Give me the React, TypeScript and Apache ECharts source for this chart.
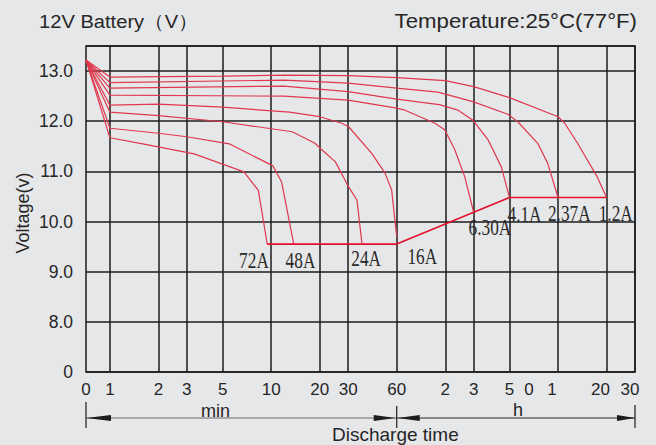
import React, { useEffect, useRef } from "react";
import * as echarts from "echarts";

// ---- data (time in minutes, voltage in volts) ----
const currents = ["1.2A", "2.37A", "4.1A", "6.30A", "16A", "24A", "48A", "72A"];

const t1_2A = [0, 1, 5, 12, 30, 60, 120, 180, 300, 600, 660, 793, 1050, 1200];
const v1_2A = [13.22, 12.88, 12.9, 12.92, 12.91, 12.87, 12.81, 12.69, 12.47, 12.09, 11.96, 11.56, 10.89, 10.48];

const t2_37A = [0, 1, 12, 30, 60, 108, 178, 293, 338, 449, 518, 600];
const v2_37A = [13.22, 12.77, 12.82, 12.76, 12.66, 12.58, 12.39, 12.14, 11.99, 11.56, 11.16, 10.48];

const t4_1A = [0, 1, 12, 30, 60, 110, 144, 178, 221, 267, 290, 300];
const v4_1A = [13.22, 12.66, 12.7, 12.59, 12.44, 12.33, 12.22, 12.02, 11.63, 11.09, 10.66, 10.48];

const t6_30A = [0, 1, 12, 30, 60, 67.5, 103.5, 119, 137.5, 158.5, 180];
const v6_30A = [13.22, 12.52, 12.5, 12.42, 12.26, 12.22, 11.96, 11.83, 11.43, 10.89, 10.18];

const t16A = [0, 1, 2, 5, 13, 20, 27.4, 30.2, 42, 50.85, 55.8, 60];
const v16A = [13.22, 12.32, 12.34, 12.28, 12.18, 12.09, 11.96, 11.89, 11.36, 10.96, 10.63, 9.7];

const t24A = [0, 1, 2, 5, 13.5, 18.7, 20.6, 25, 30.2, 34, 36.5];
const v24A = [13.22, 12.18, 12.11, 11.99, 11.79, 11.56, 11.43, 11.19, 10.69, 10.43, 9.57];

const t48A = [0, 1, 2, 3, 5.5, 10.25, 11.6, 13.8];
const v48A = [13.22, 11.86, 11.76, 11.69, 11.55, 11.11, 10.79, 9.55];

const t72A = [0, 1, 1.66, 3.33, 6.78, 8.32, 9.45];
const v72A = [13.22, 11.67, 11.54, 11.35, 10.99, 10.62, 9.55];

const cutoffMinutes = [9.45, 60, 300, 1200];
const cutoffVolts = [9.55, 9.55, 10.48, 10.48];

const curveTimes = [t1_2A, t2_37A, t4_1A, t6_30A, t16A, t24A, t48A, t72A];
const curveVolts = [v1_2A, v2_37A, v4_1A, v6_30A, v16A, v24A, v48A, v72A];

// curve label anchors (minutes, volts)
const labelMinutes = [1367, 705, 372, 227, 86.4, 38.8, 15.19, 7.82];
const labelVolts = [10.17, 10.17, 10.16, 9.9, 9.31, 9.27, 9.23, 9.23];

// axes
const AXIS_START_MIN = 0.711; // left edge, labelled "0"
const AXIS_END_MIN = 1800; // 30 h
const xGridMinutes = [1, 2, 3, 5, 10, 20, 30, 60, 120, 180, 300, 600, 1200, 1800];
const xLabelMinutes = [0, 1, 2, 3, 5, 10, 20, 30, 60, 120, 180, 300, 397, 550, 1100, 1673];
const xTickLabels = ["0", "1", "2", "3", "5", "10", "20", "30", "60", "2", "3", "5", "0", "1", "20", "30"];
const yTickLabels = ["0", "8.0", "9.0", "10.0", "11.0", "12.0", "13.0"];

const xOf = (t: number) => (t <= 0 ? Math.log10(AXIS_START_MIN) : Math.log10(t));
const yOf = (v: number) => v - 7; // broken axis: 0, then 8..13

const CURVE = "#e0384e";
const CUT = "#e6102c";
const GRID = "#1c1c1c";
const TEXT = "#262626";
const SANS = "'Liberation Sans', Arial, sans-serif";
const SERIF = "'Liberation Serif', 'Times New Roman', serif";

export default function App() {
  const ref = useRef<HTMLDivElement>(null);

  useEffect(() => {
    const chart = echarts.init(ref.current!, null, { renderer: "svg" });
    const xLabelVals = xLabelMinutes.map(xOf);

    const series: any[] = curveTimes.map((ts, i) => ({
      type: "line",
      name: currents[i],
      data: ts.map((t, j) => [xOf(t), yOf(curveVolts[i][j])]),
      symbol: "none",
      showSymbol: false,
      silent: true,
      lineStyle: { color: CURVE, width: 1.2 },
      z: 3,
    }));
    series.push({
      type: "line",
      name: "cutoff",
      data: cutoffMinutes.map((t, j) => [xOf(t), yOf(cutoffVolts[j])]),
      symbol: "none",
      showSymbol: false,
      silent: true,
      lineStyle: { color: CUT, width: 1.6 },
      z: 4,
    });

    const option: any = {
      animation: false,
      backgroundColor: "#e6e7e9",
      grid: {
        left: 86,
        right: 21,
        top: 46,
        bottom: 73,
        show: true,
        borderColor: GRID,
        borderWidth: 1.5,
        backgroundColor: "transparent",
      },
      xAxis: {
        type: "value",
        min: xOf(AXIS_START_MIN),
        max: xOf(AXIS_END_MIN),
        axisLine: { show: false },
        axisTick: { show: false, customValues: xGridMinutes.map(xOf) },
        splitLine: { show: true, lineStyle: { color: GRID, width: 1.5 } },
        axisLabel: {
          customValues: xLabelVals,
          formatter: (val: number) => {
            let best = 0;
            for (let i = 1; i < xLabelVals.length; i++) {
              if (Math.abs(xLabelVals[i] - val) < Math.abs(xLabelVals[best] - val)) best = i;
            }
            return xTickLabels[best];
          },
          margin: 9,
          fontSize: 17,
          color: TEXT,
          fontFamily: SANS,
          showMinLabel: true,
          showMaxLabel: true,
        },
      },
      yAxis: {
        type: "value",
        min: 0,
        max: 6.5,
        interval: 1,
        axisLine: { show: false },
        axisTick: { show: false },
        splitLine: { show: true, lineStyle: { color: GRID, width: 1.5 } },
        axisLabel: {
          formatter: (v: number) => (Number.isInteger(v) ? yTickLabels[v] : ""),
          margin: 13,
          fontSize: 17.5,
          color: TEXT,
          fontFamily: SANS,
        },
      },
      series,
    };
    chart.setOption(option);

    const px = (t: number, v: number) => chart.convertToPixel({ gridIndex: 0 }, [xOf(t), yOf(v)]) as number[];
    const xStart = px(0, 9)[0];
    const x60 = px(60, 9)[0];
    const xEnd = px(AXIS_END_MIN, 9)[0];
    const ay = 418;

    const graphic: any[] = [];
    // titles
    graphic.push({
      type: "text",
      x: 39,
      y: 21,
      scaleX: 1.06,
      style: { x: 0, y: 0, text: "12V Battery（V）", font: `19px ${SANS}`, fill: TEXT, textAlign: "left", textVerticalAlign: "middle" },
    });
    graphic.push({
      type: "text",
      x: 637,
      y: 21,
      scaleX: 1.14,
      style: { x: 0, y: 0, text: "Temperature:25°C(77°F)", font: `19.5px ${SANS}`, fill: TEXT, textAlign: "right", textVerticalAlign: "middle" },
    });
    graphic.push({
      type: "text",
      x: 23,
      y: 213,
      rotation: Math.PI / 2,
      style: { x: 0, y: 0, text: "Voltage(v)", font: `18px ${SANS}`, fill: TEXT, textAlign: "center", textVerticalAlign: "middle" },
    });
    // curve labels
    currents.forEach((name, i) => {
      const p = px(labelMinutes[i], labelVolts[i]);
      graphic.push({
        type: "text",
        x: p[0],
        y: p[1],
        scaleX: 0.72,
        style: { x: 0, y: 0, text: name, font: `24px ${SERIF}`, fill: "#2a2a2a", textAlign: "center", textVerticalAlign: "middle" },
      });
    });
    // discharge time arrows
    const arrowFill = "#1c1c1c";
    graphic.push({ type: "line", shape: { x1: xStart, y1: ay, x2: x60, y2: ay }, style: { stroke: "#6a6a6a", lineWidth: 1.2 } });
    graphic.push({ type: "line", shape: { x1: x60, y1: ay, x2: xEnd, y2: ay }, style: { stroke: "#2a2a2a", lineWidth: 1.2 } });
    const head = (tip: number, dir: number, len: number) => ({
      type: "polygon",
      shape: { points: [[tip, ay], [tip + dir * len, ay - 3], [tip + dir * len, ay + 3]] },
      style: { fill: arrowFill },
    });
    graphic.push(head(xStart, 1, 25));
    graphic.push(head(x60 - 1, -1, 22));
    graphic.push(head(x60 + 1, 1, 22));
    graphic.push(head(xEnd, -1, 18));
    graphic.push({ type: "line", shape: { x1: xStart, y1: 402, x2: xStart, y2: 428 }, style: { stroke: "#1c1c1c", lineWidth: 1.2 } });
    graphic.push({ type: "line", shape: { x1: x60, y1: 406, x2: x60, y2: 428 }, style: { stroke: "#1c1c1c", lineWidth: 1.2 } });
    graphic.push({ type: "line", shape: { x1: xEnd, y1: 405, x2: xEnd, y2: 428 }, style: { stroke: "#1c1c1c", lineWidth: 1.2 } });
    graphic.push({
      type: "text",
      x: 215.5,
      y: 410.5,
      style: { x: 0, y: 0, text: "min", font: `18px ${SANS}`, fill: TEXT, textAlign: "center", textVerticalAlign: "middle" },
    });
    graphic.push({
      type: "text",
      x: 518,
      y: 409.5,
      style: { x: 0, y: 0, text: "h", font: `18px ${SANS}`, fill: TEXT, textAlign: "center", textVerticalAlign: "middle" },
    });
    graphic.push({
      type: "text",
      x: 332,
      y: 444,
      style: { x: 0, y: 0, text: "Discharge time", font: `19px ${SANS}`, fill: TEXT, textAlign: "left", textVerticalAlign: "bottom" },
    });

    chart.setOption({ graphic });

    return () => chart.dispose();
  }, []);

  return <div ref={ref} style={{ position: "absolute", left: 0, top: 0, width: 656, height: 445 }} />;
}
